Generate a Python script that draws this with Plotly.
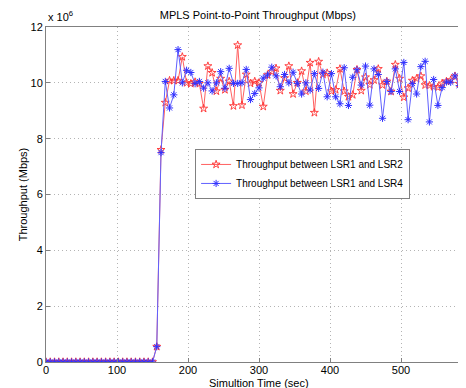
import plotly.graph_objects as go

time_s = [0, 6, 12, 18, 24, 30, 36, 42, 48, 54, 60, 66, 72, 78, 84, 90, 96, 102, 108, 114,
          120, 126, 132, 138, 144, 150, 156, 162, 168, 174, 180, 186, 192, 198, 204, 210,
          216, 222, 228, 234, 240, 246, 252, 258, 264, 270, 276, 282, 288, 294, 300, 306,
          312, 318, 324, 330, 336, 342, 348, 354, 360, 366, 372, 378, 384, 390, 396, 402,
          408, 414, 420, 426, 432, 438, 444, 450, 456, 462, 468, 474, 480, 486, 492, 498,
          504, 510, 516, 522, 528, 534, 540, 546, 552, 558, 564, 570, 576, 582, 588, 594, 600]

# Throughput in units of 10^6 bps
lsr1_lsr2 = [0, 0, 0, 0, 0, 0, 0, 0, 0, 0, 0, 0, 0, 0, 0, 0, 0, 0, 0, 0,
             0, 0, 0, 0, 0, 0, 0.55, 7.6, 9.29, 10.08, 10.08, 10.08, 10.93, 10.0, 9.97, 10.03,
             9.97, 9.08, 10.6, 10.36, 9.7, 10.15, 9.75, 10.05, 9.17, 11.35, 9.2, 10.3, 9.98, 10.05, 10.0, 9.15,
             10.28, 10.4, 10.52, 9.72, 10.17, 10.6, 9.6, 10.0, 10.42, 9.7, 10.72, 8.93, 10.76, 10.3, 10.35, 9.7,
             9.75, 10.5, 9.7, 9.5, 9.57, 10.47, 9.72, 10.2, 9.93, 10.1, 10.5, 9.92, 10.05, 9.69, 10.65, 10.15,
             9.48, 9.81, 10.08, 10.15, 10.24, 9.92, 9.9, 9.86, 9.84, 9.98, 10.05, 10.1, 10.24, 9.97, 9.69, 10.19, 10.0]

lsr1_lsr4 = [0, 0, 0, 0, 0, 0, 0, 0, 0, 0, 0, 0, 0, 0, 0, 0, 0, 0, 0, 0,
             0, 0, 0, 0, 0, 0, 0.55, 7.5, 10.05, 9.1, 9.57, 11.19, 10.0, 10.45, 10.37, 9.97,
             10.05, 9.81, 10.0, 9.71, 10.0, 10.4, 9.81, 10.52, 9.98, 9.98, 10.0, 10.48, 9.4, 9.62, 9.82, 10.17,
             10.28, 10.56, 10.25, 9.86, 10.3, 10.0, 10.38, 9.98, 9.6, 10.0, 9.74, 10.33, 9.8, 10.38, 9.5, 10.33,
             9.5, 9.25, 10.54, 9.19, 10.2, 10.47, 9.92, 10.6, 9.2, 10.5, 10.3, 8.73, 10.05, 9.69, 10.5, 9.69,
             10.73, 8.68, 9.98, 9.6, 10.58, 10.77, 8.6, 10.12, 9.19, 9.83, 10.03, 10.02, 10.25, 9.9, 9.65, 10.0, 9.9]

x_ticks = [0, 100, 200, 300, 400, 500, 600]
y_ticks = [0, 2, 4, 6, 8, 10, 12]

FONT = "Liberation Sans, Arial, sans-serif"

fig = go.Figure()
fig.add_trace(go.Scatter(
    x=time_s, y=lsr1_lsr2, mode="lines+markers",
    name="Throughput between LSR1 and LSR2",
    line=dict(color="#ff6060", width=1),
    marker=dict(symbol="star-open", size=6, color="#ff3030", line=dict(width=0.9)),
))
fig.add_trace(go.Scatter(
    x=time_s, y=lsr1_lsr4, mode="lines+markers",
    name="Throughput between LSR1 and LSR4",
    line=dict(color="#6060ff", width=1),
    marker=dict(symbol="asterisk-open", size=6, color="#3030ff", line=dict(width=1)),
))

axis_common = dict(
    showgrid=True, gridcolor="#b4b4b4", griddash="1px,3px", gridwidth=1,
    showline=True, linecolor="#808080", linewidth=1, mirror=True,
    ticks="inside", ticklen=4, tickcolor="#808080",
    tickfont=dict(family=FONT, size=11, color="black"),
    zeroline=False, automargin=False,
)

fig.update_layout(
    width=466, height=388,
    margin=dict(l=38, r=2, t=19, b=34),
    paper_bgcolor="white", plot_bgcolor="white",
    font=dict(family=FONT, size=11, color="black"),
    title=dict(text="MPLS Point-to-Point Throughput (Mbps)", x=0.536, xanchor="center",
               y=0.981, yanchor="middle", font=dict(family=FONT, size=11, color="black")),
    xaxis=dict(range=[0, 600], tickvals=x_ticks, ticklabelstandoff=-2, **axis_common),
    yaxis=dict(range=[0, 12], tickvals=y_ticks,
               title=dict(text="Throughput (Mbps)", standoff=0,
                          font=dict(family=FONT, size=11, color="black")),
               **axis_common),
    legend=dict(x=0.35, y=0.636, xanchor="left", yanchor="top",
                bgcolor="white", bordercolor="#808080", borderwidth=1,
                font=dict(family=FONT, size=10, color="black"),
                itemwidth=30, tracegroupgap=0),
    showlegend=True,
    annotations=[
        dict(text="x 10<sup>6</sup>", xref="paper", yref="paper", x=0, y=1,
             xanchor="left", yanchor="bottom", yshift=2, showarrow=False,
             font=dict(family=FONT, size=11, color="black")),
        dict(text="Simultion Time (sec)", xref="paper", yref="paper", x=0.5, y=0,
             xanchor="center", yanchor="top", yshift=-13, showarrow=False,
             font=dict(family=FONT, size=11, color="black")),
    ],
)

fig.write_html("out.html")
